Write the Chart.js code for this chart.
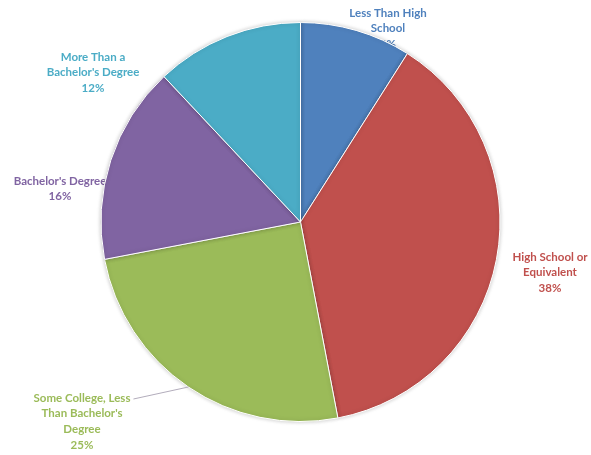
<!DOCTYPE html>
<html>
<head>
<meta charset="utf-8">
<script src="https://cdn.jsdelivr.net/npm/chart.js@4/dist/chart.umd.min.js"></script>
<style>
  html, body { margin: 0; padding: 0; background: #fff; }
  #wrap { width: 591px; height: 455px; }
</style>
</head>
<body>
<div id="wrap"><canvas id="grafico" width="591" height="455"></canvas></div>
<script>
const categories = [
  "Less Than High School",
  "High School or Equivalent",
  "Some College, Less Than Bachelor's Degree",
  "Bachelor's Degree",
  "More Than a Bachelor's Degree",
];
const values = [9, 38, 25, 16, 12];
const colors = ["#4F81BD", "#C0504D", "#9BBB59", "#8064A2", "#4BACC6"];

// label lines (text wrapped like the original), the percent is added after
const labelLines = [
  ["Less Than High", "School"],
  ["High School or", "Equivalent"],
  ["Some College, Less", "Than Bachelor's", "Degree"],
  ["Bachelor's Degree"],
  ["More Than a", "Bachelor's Degree"],
];
// where each label block sits (centre x, first line y)
const labelPos = [
  { x: 388, y: 13 },
  { x: 550, y: 257 },
  { x: 82, y: 398 },
  { x: 60, y: 181 },
  { x: 93, y: 57 },
];
// labels that sit partly under the pie get painted before the slices
const underPie = [true, false, false, true, false];

const drawLabels = (chart, under) => {
  const ctx = chart.ctx;
  ctx.save();
  ctx.font = "bold 11.5px Lato";
  ctx.textAlign = "center";
  ctx.textBaseline = "middle";
  labelLines.forEach((lines, i) => {
    if (underPie[i] !== under) return;
    ctx.fillStyle = colors[i];
    const all = lines.concat([values[i] + "%"]);
    all.forEach((t, k) => {
      ctx.fillText(t, labelPos[i].x, labelPos[i].y + k * 15.7);
    });
  });
  if (!under) {
    // leader line for the "Some College" label
    const arc = chart.getDatasetMeta(0).data[2];
    const mid = (arc.startAngle + arc.endAngle) / 2;
    const ex = arc.x + Math.cos(mid) * arc.outerRadius;
    const ey = arc.y + Math.sin(mid) * arc.outerRadius;
    const w = ctx.measureText(labelLines[2][0]).width;
    ctx.strokeStyle = "#a9a3b3";
    ctx.lineWidth = 0.9;
    ctx.beginPath();
    ctx.moveTo(labelPos[2].x + w / 2 + 3, labelPos[2].y + 1);
    ctx.lineTo(ex, ey);
    ctx.stroke();
  }
  ctx.restore();
};

const labelPlugin = {
  id: "pieLabels",
  beforeDatasetsDraw(chart) {
    drawLabels(chart, true);
    chart.ctx.save();
    chart.ctx.shadowColor = "rgba(0,0,0,0.22)";
    chart.ctx.shadowBlur = 4;
  },
  afterDatasetsDraw(chart) {
    chart.ctx.restore();
    drawLabels(chart, false);
  },
};

let canva = document.getElementById("grafico").getContext("2d");
let chartPie = new Chart(canva, {
  type: "pie",
  data: {
    labels: categories,
    datasets: [
      {
        data: values,
        backgroundColor: colors,
        borderColor: "#ffffff",
        borderWidth: 1,
      },
    ],
  },
  options: {
    responsive: false,
    animation: false,
    layout: {
      padding: { top: 22, bottom: 33, left: 100, right: 90 },
    },
    plugins: {
      legend: { display: false },
      tooltip: { enabled: false },
    },
  },
  plugins: [labelPlugin],
});
</script>
</body>
</html>
